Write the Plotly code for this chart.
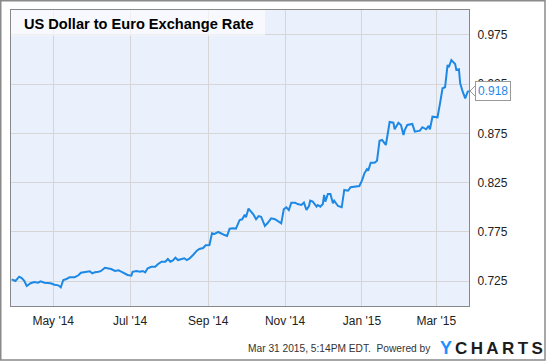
import plotly.graph_objects as go

dates = [
    "2014-03-29", "2014-04-01", "2014-04-04", "2014-04-06", "2014-04-08", "2014-04-10", "2014-04-13", "2014-04-16", "2014-04-19", "2014-04-21",
    "2014-04-24", "2014-04-27", "2014-04-29", "2014-05-02", "2014-05-05", "2014-05-07", "2014-05-09", "2014-05-11", "2014-05-14", "2014-05-18",
    "2014-05-21", "2014-05-23", "2014-05-27", "2014-05-30", "2014-06-01", "2014-06-03", "2014-06-06", "2014-06-08", "2014-06-11", "2014-06-14",
    "2014-06-16", "2014-06-19", "2014-06-22", "2014-06-24", "2014-06-27", "2014-06-29", "2014-07-02", "2014-07-03", "2014-07-06", "2014-07-09",
    "2014-07-11", "2014-07-13", "2014-07-15", "2014-07-18", "2014-07-21", "2014-07-23", "2014-07-26", "2014-07-29", "2014-07-31", "2014-08-02",
    "2014-08-04", "2014-08-06", "2014-08-08", "2014-08-11", "2014-08-13", "2014-08-15", "2014-08-17", "2014-08-20", "2014-08-23", "2014-08-25",
    "2014-08-28", "2014-08-30", "2014-09-02", "2014-09-04", "2014-09-06", "2014-09-09", "2014-09-12", "2014-09-14", "2014-09-16", "2014-09-18",
    "2014-09-21", "2014-09-23", "2014-09-26", "2014-09-28", "2014-09-30", "2014-10-01", "2014-10-03", "2014-10-05", "2014-10-07", "2014-10-09",
    "2014-10-11", "2014-10-13", "2014-10-16", "2014-10-18", "2014-10-21", "2014-10-24", "2014-10-26", "2014-10-29", "2014-10-31", "2014-11-02",
    "2014-11-04", "2014-11-06", "2014-11-09", "2014-11-11", "2014-11-14", "2014-11-16", "2014-11-18", "2014-11-20", "2014-11-21", "2014-11-23",
    "2014-11-26", "2014-11-27", "2014-11-29", "2014-12-01", "2014-12-02", "2014-12-03", "2014-12-05", "2014-12-07", "2014-12-09", "2014-12-10",
    "2014-12-13", "2014-12-15", "2014-12-16", "2014-12-18", "2014-12-21", "2014-12-23", "2014-12-26", "2014-12-30", "2015-01-01", "2015-01-03",
    "2015-01-05", "2015-01-06", "2015-01-08", "2015-01-11", "2015-01-13", "2015-01-15", "2015-01-17", "2015-01-20", "2015-01-22", "2015-01-23",
    "2015-01-26", "2015-01-27", "2015-01-30", "2015-02-01", "2015-02-03", "2015-02-04", "2015-02-06", "2015-02-10", "2015-02-12", "2015-02-16",
    "2015-02-18", "2015-02-21", "2015-02-23", "2015-02-24", "2015-02-26", "2015-03-02", "2015-03-04", "2015-03-06", "2015-03-08", "2015-03-10",
    "2015-03-11", "2015-03-13", "2015-03-16", "2015-03-17", "2015-03-19", "2015-03-20", "2015-03-22", "2015-03-24", "2015-03-26", "2015-03-27",
]

rates = [
    0.7267, 0.7250, 0.7294, 0.7280, 0.7253, 0.7199, 0.7227, 0.7240, 0.7233, 0.7247,
    0.7233, 0.7227, 0.7227, 0.7212, 0.7206, 0.7186, 0.7260, 0.7267, 0.7288, 0.7288,
    0.7308, 0.7334, 0.7341, 0.7349, 0.7328, 0.7338, 0.7344, 0.7352, 0.7385, 0.7379,
    0.7372, 0.7352, 0.7359, 0.7344, 0.7328, 0.7311, 0.7304, 0.7344, 0.7352, 0.7344,
    0.7352, 0.7338, 0.7379, 0.7395, 0.7395, 0.7420, 0.7446, 0.7446, 0.7474, 0.7446,
    0.7460, 0.7487, 0.7463, 0.7474, 0.7481, 0.7463, 0.7477, 0.7514, 0.7558, 0.7575,
    0.7585, 0.7613, 0.7616, 0.7735, 0.7728, 0.7748, 0.7724, 0.7717, 0.7707, 0.7781,
    0.7785, 0.7781, 0.7870, 0.7877, 0.7924, 0.7897, 0.7985, 0.7954, 0.7924, 0.7877,
    0.7910, 0.7903, 0.7809, 0.7836, 0.7887, 0.7877, 0.7863, 0.7836, 0.7978, 0.7999,
    0.7971, 0.8046, 0.8046, 0.8032, 0.8022, 0.8046, 0.7971, 0.8012, 0.8066, 0.8056,
    0.8005, 0.8022, 0.8005, 0.8032, 0.8124, 0.8056, 0.8134, 0.8134, 0.8039, 0.8066,
    0.8012, 0.8005, 0.7999, 0.8175, 0.8167, 0.8202, 0.8208, 0.8215, 0.8269, 0.8344,
    0.8385, 0.8371, 0.8452, 0.8452, 0.8472, 0.8675, 0.8683, 0.8632, 0.8784, 0.8865,
    0.8858, 0.8791, 0.8858, 0.8835, 0.8733, 0.8784, 0.8835, 0.8845, 0.8767, 0.8777,
    0.8812, 0.8791, 0.8825, 0.8791, 0.8919, 0.8913, 0.9055, 0.9208, 0.9218, 0.9445,
    0.9421, 0.9495, 0.9455, 0.9394, 0.9401, 0.9259, 0.9173, 0.9106, 0.9173, 0.9180,
]

y_ticks = [0.725, 0.775, 0.825, 0.875, 0.925, 0.975]
title_text = "US Dollar to Euro Exchange Rate"
footer_text = "Mar 31 2015, 5:14PM EDT.  Powered by"
last_label = "0.918"

LINE = "#1e88e5"
FONT = "Arial, Liberation Sans, sans-serif"

fig = go.Figure()
fig.add_trace(go.Scatter(x=dates, y=rates, mode="lines",
                         line=dict(color=LINE, width=2), hoverinfo="skip"))

# pixel helpers for the plot area: x 11..469, y 10..306
def px(x):
    return (x - 11) / 458.0

def py(y):
    return (306 - y) / 296.0

shapes = [
    # outer frame
    dict(type="rect", xref="paper", yref="paper", x0=px(0.75), x1=px(545), y0=py(360), y1=py(0.75),
         line=dict(color="#8a8a8a", width=1.5), fillcolor="rgba(0,0,0,0)", layer="above"),
    # title box
    dict(type="rect", xref="paper", yref="paper", x0=0, x1=px(265), y0=py(35.5), y1=1,
         line=dict(width=0), fillcolor="rgba(255,255,255,0.6)", layer="above"),
    # pointer of last-value label
    dict(type="path", xref="paper", yref="y",
         path=f"M {px(470)},{rates[-1]} L {px(475.5)},{rates[-1] + 0.0055} L {px(475.5)},{rates[-1] - 0.0055} Z",
         line=dict(color="#999999", width=1), fillcolor="white", layer="above"),
]

annotations = [
    dict(text=f"<b>{title_text}</b>", xref="paper", yref="paper", x=px(21.5), y=py(24),
         xanchor="left", yanchor="middle", showarrow=False,
         font=dict(family=FONT, size=14.6, color="#000000")),
    dict(text=last_label, xref="paper", yref="y", x=px(475), y=rates[-1],
         xanchor="left", yanchor="middle", showarrow=False,
         bgcolor="white", bordercolor="#999999", borderwidth=1, borderpad=2,
         font=dict(family=FONT, size=12, color=LINE)),
    dict(text=footer_text, xref="paper", yref="paper", x=px(433), y=py(348),
         xanchor="right", yanchor="middle", showarrow=False,
         font=dict(family=FONT, size=10.2, color="#333333")),
    dict(text="<b>Y</b>", xref="paper", yref="paper", x=px(438), y=py(348),
         xanchor="left", yanchor="middle", showarrow=False,
         font=dict(family=FONT, size=18, color="#1e90ff")),
    dict(text="<b>C\u2009H\u2009A\u2009R\u2009T\u2009S</b>", xref="paper", yref="paper", x=px(453), y=py(348),
         xanchor="left", yanchor="middle", showarrow=False,
         font=dict(family=FONT, size=17, color="#1c1c1c")),
]

fig.update_layout(
    width=550, height=362,
    margin=dict(l=11, r=81, t=10, b=56, autoexpand=False),
    paper_bgcolor="white",
    plot_bgcolor="#eaf1fc",
    showlegend=False,
    shapes=shapes,
    annotations=annotations,
    xaxis=dict(
        type="date",
        range=["2014-03-28 12:00", "2015-03-27"],
        tick0="2014-05-01", dtick="M2", tickformat="%b '%y",
        showgrid=True, gridcolor="#d6d6d6", gridwidth=1,
        showline=True, linecolor="#888888", linewidth=1, mirror=True,
        ticks="", ticklabelstandoff=4, automargin=False,
        tickfont=dict(family=FONT, size=12, color="#222222"),
        zeroline=False, fixedrange=True,
    ),
    yaxis=dict(
        side="right",
        range=[0.6996, 1.0003],
        tickvals=y_ticks, tickformat=".3f",
        showgrid=True, gridcolor="#d6d6d6", gridwidth=1,
        showline=True, linecolor="#888888", linewidth=1, mirror=True,
        ticks="", ticklabelstandoff=5, automargin=False,
        tickfont=dict(family=FONT, size=12, color="#222222"),
        zeroline=False, fixedrange=True,
    ),
)

fig.write_html("out.html", config={"displayModeBar": False},
               post_script="document.body.style.margin='0';document.body.style.padding='0';")
